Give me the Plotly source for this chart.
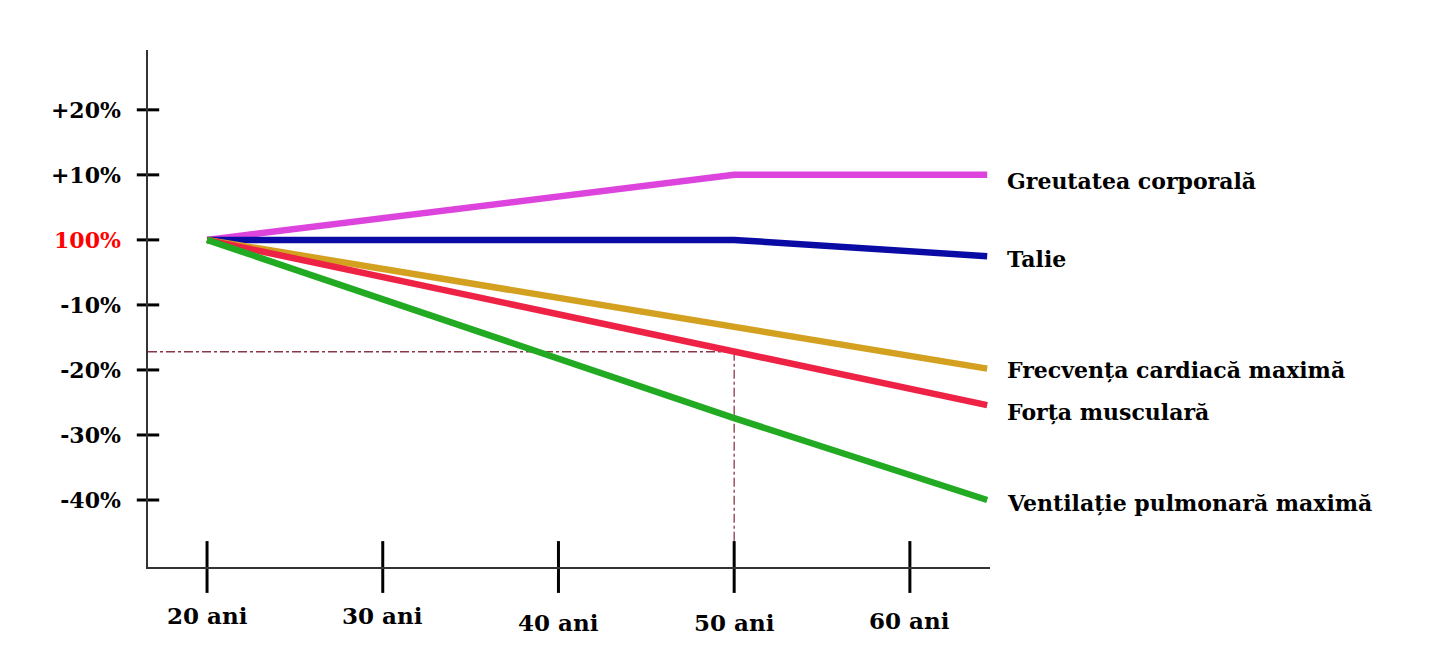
import plotly.graph_objects as go

# ---- data ----
ages_tick = [20, 30, 40, 50, 60]
age_labels = ["20 ani", "30 ani", "40 ani", "50 ani", "60 ani"]
pct_ticks = [20, 10, 0, -10, -20, -30, -40]
pct_labels = ["+20%", "+10%", "100%", "-10%", "-20%", "-30%", "-40%"]

series_names = ["Greutatea corporală", "Talie", "Frecvența cardiacă maximă",
                "Forța musculară", "Ventilație pulmonară maximă"]
x_weight = [20, 50, 64.4]; y_weight = [0, 10, 10]
x_height = [20, 50, 64.4]; y_height = [0, 0, -2.5]
x_heart = [20, 64.4]; y_heart = [0, -19.8]
x_muscle = [20, 50, 64.4]; y_muscle = [0, -17.2, -25.4]
x_vent = [20, 50, 64.4]; y_vent = [0, -27.4, -40]
ref_age = 50
ref_value = -17.2

colors = ["#dd44dd", "#0a0aa5", "#d4a020", "#ee2244", "#22aa22"]
label_shift = [-6, -3, -1, -7, -3]
xlab_shift = [0, 0, -7, -7, -5]

XR = [16.64, 64.56]
YR = [-50.3, 29.2]
FONT = "DejaVu Serif"

fig = go.Figure()

xs = [x_weight, x_height, x_heart, x_muscle, x_vent]
ys = [y_weight, y_height, y_heart, y_muscle, y_vent]

# reference dash-dot lines
fig.add_trace(go.Scatter(x=[XR[0], ref_age], y=[ref_value, ref_value], mode="lines",
                         line=dict(color="#8a3848", width=1.3, dash="dashdot"),
                         hoverinfo="skip", showlegend=False))
fig.add_trace(go.Scatter(x=[ref_age, ref_age], y=[ref_value, YR[0] + 3], mode="lines",
                         line=dict(color="#8a3848", width=1.3, dash="dashdot"),
                         hoverinfo="skip", showlegend=False))

for n, x, y, c in zip(series_names, xs, ys, colors):
    fig.add_trace(go.Scatter(x=x, y=y, mode="lines", name=n,
                             line=dict(color=c, width=6.5), showlegend=False))

# crossing tick marks
fig.add_trace(go.Scatter(x=ages_tick, y=[YR[0]] * len(ages_tick), mode="markers",
                         marker=dict(symbol="line-ns", size=37, line=dict(width=3, color="black")),
                         cliponaxis=False, hoverinfo="skip", showlegend=False))
fig.add_trace(go.Scatter(x=[XR[0]] * len(pct_ticks), y=pct_ticks, mode="markers",
                         marker=dict(symbol="line-ew", size=16, line=dict(width=3, color="black")),
                         cliponaxis=False, hoverinfo="skip", showlegend=False))

ticktext = [f"<span style='color:#ff0000'>{t}</span>" if v == 0 else t
            for v, t in zip(pct_ticks, pct_labels)]

fig.update_layout(
    width=1430, height=651,
    margin=dict(l=140, r=448, t=42, b=92),
    paper_bgcolor="white", plot_bgcolor="white",
    xaxis=dict(range=XR, showgrid=False, zeroline=False, showline=True,
               linecolor="#333", linewidth=1.5, showticklabels=False, ticks=""),
    yaxis=dict(range=YR, showgrid=False, zeroline=False, showline=True,
               linecolor="#333", linewidth=1.5, tickvals=pct_ticks, ticktext=ticktext,
               ticks="", ticklabelstandoff=21,
               tickfont=dict(family=FONT, size=22, color="black", weight="bold")),
)

for a, t, s in zip(ages_tick, age_labels, xlab_shift):
    fig.add_annotation(x=a, y=-0.093, xref="x", yref="paper", text=f"<b>{t}</b>",
                       showarrow=False, yshift=s, yanchor="middle", xanchor="center",
                       font=dict(family=FONT, size=23, color="black"))

for n, y, s in zip(series_names, ys, label_shift):
    fig.add_annotation(x=1.0178, y=y[-1], xref="paper", yref="y", text=f"<b>{n}</b>",
                       showarrow=False, xanchor="left", yanchor="middle", yshift=s,
                       font=dict(family=FONT, size=22, color="black"))

fig.write_html("out.html")
